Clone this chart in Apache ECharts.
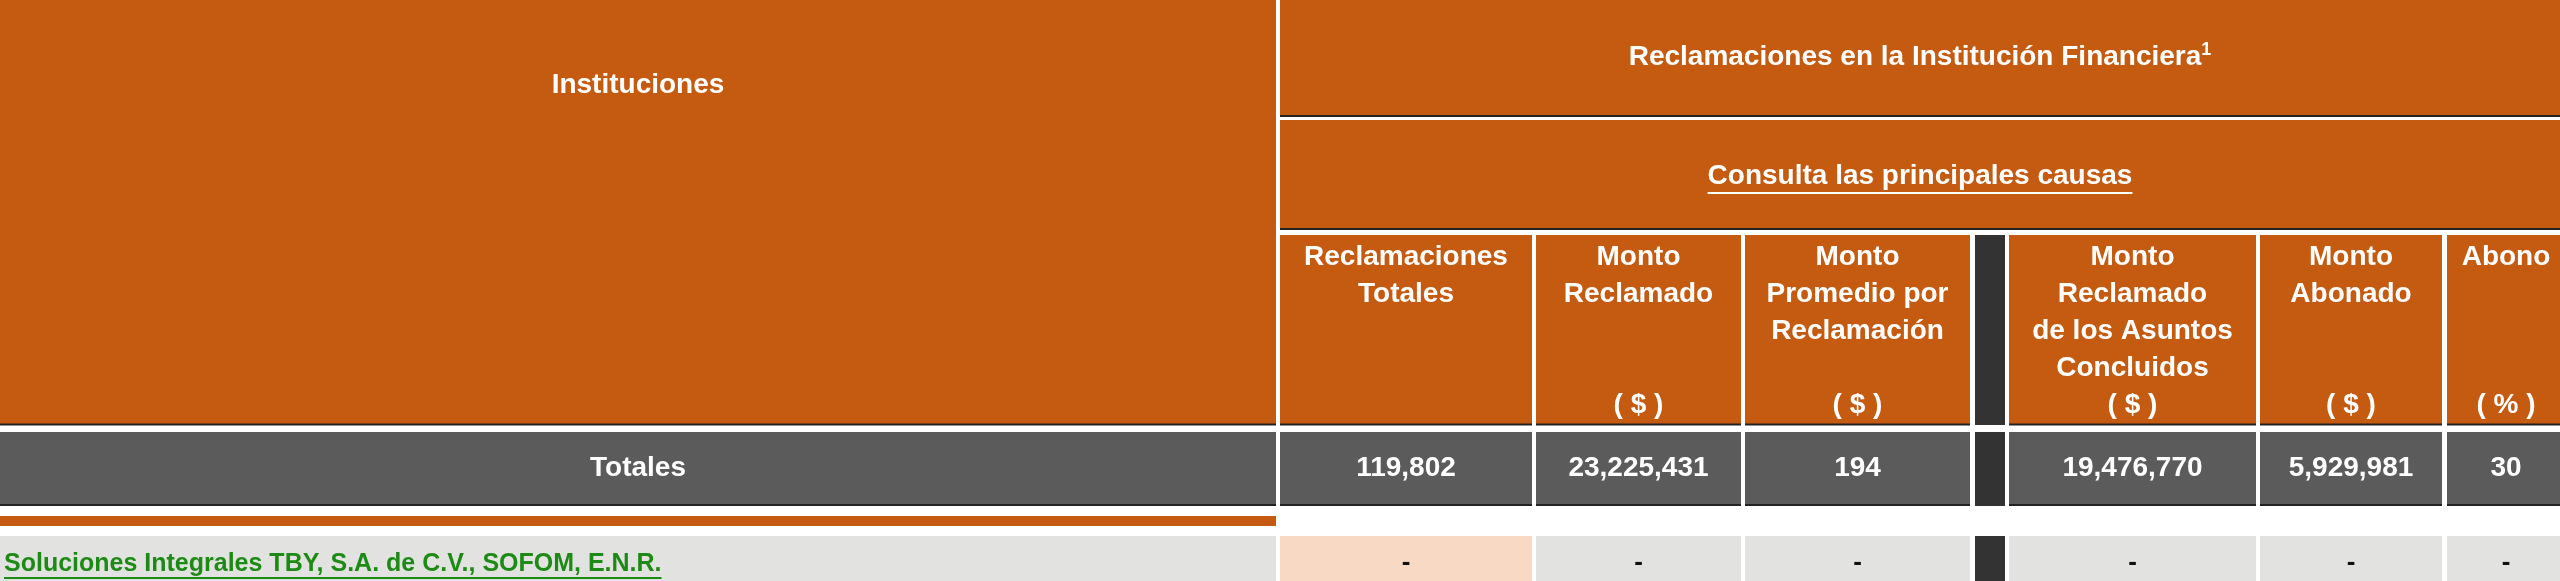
<!DOCTYPE html>
<html><head><meta charset="utf-8">
<script src="https://cdn.jsdelivr.net/npm/echarts@6/dist/echarts.min.js"></script>
<style>html,body{margin:0;padding:0;background:#fff}#c{width:2560px;height:581px}</style>
</head><body><div id="c"></div>
<script>
var leftHeader = "Instituciones";
var groupTitle = "Reclamaciones en la Institución Financiera";
var groupSup = "1";
var linkText = "Consulta las principales causas";
var columnHeaders = [
  ["Reclamaciones","Totales"],
  ["Monto","Reclamado"],
  ["Monto","Promedio por","Reclamación"],
  null,
  ["Monto","Reclamado","de los Asuntos","Concluidos"],
  ["Monto","Abonado"],
  ["Abono"]
];
var columnUnits = ["", "( $ )", "( $ )", null, "( $ )", "( $ )", "( % )"];
var totalsLabel = "Totales";
var totalsValues = ["119,802","23,225,431","194",null,"19,476,770","5,929,981","30"];
var institutions = ["Soluciones Integrales TBY, S.A. de C.V., SOFOM, E.N.R."];
var institutionValues = [["-","-","-",null,"-","-","-"]];

// layout
var colX = [[1280,1532],[1536,1741],[1745,1970],[1975,2005],[2009,2256],[2260,2442],[2447,2565]];
var ORANGE="#C55A11", GRAY="#5B5B5B", LIGHT="#E2E3E0", PEACH="#F8D9C4", DARK="#333333";
var FONT='"Liberation Sans", Arial, sans-serif';
var cv=document.createElement('canvas').getContext('2d');
function tw(t,s){cv.font='bold '+s+'px '+FONT;return cv.measureText(t).width;}
var els=[];
function rect(x,y,w,h,c){els.push({type:'rect',shape:{x:x,y:y,width:w,height:h},style:{fill:c},silent:true});}
function line(x1,y1,x2,y2,c,w){els.push({type:'line',shape:{x1:x1,y1:y1,x2:x2,y2:y2},style:{stroke:c,lineWidth:w},silent:true});}
function text(t,x,y,s,c,align){els.push({type:'text',x:x,y:y,style:{text:t,fill:c,font:'bold '+s+'px '+FONT,textAlign:align||'center',textVerticalAlign:'middle'},silent:true});}

// left header block
rect(0,0,1276,425,ORANGE); line(0,424.5,1276,424.5,'#222',2);
text(leftHeader,638,85,28,'#fff');
// group title
rect(1280,0,1290,116,ORANGE); line(1280,116,2560,116,'#222',2);
els.push({type:'text',x:1920,y:57,style:{rich:{a:{font:'bold 28px '+FONT,fill:'#fff'},s:{font:'bold 18px '+FONT,fill:'#fff',verticalAlign:'top',padding:[0,0,14,0]}},text:'{a|'+groupTitle+'}{s|'+groupSup+'}',textAlign:'center',textVerticalAlign:'middle'},silent:true});
rect(1280,120,1290,109,ORANGE); line(1280,229,2560,229,'#222',2);
text(linkText,1920,176,28,'#fff');
var lw=tw(linkText,28); line(1920-lw/2,193,1920+lw/2,193,'#fff',2);
// column headers
columnHeaders.forEach(function(h,i){
  var x0=colX[i][0],x1=colX[i][1],cx=(x0+x1)/2;
  if(!h){rect(x0,235,x1-x0,190,DARK);return;}
  rect(x0,235,x1-x0,190,ORANGE); line(x0,424.5,x1,424.5,'#222',2);
  h.forEach(function(t,k){text(t,cx,257+k*37,28,'#fff');});
  if(columnUnits[i]) text(columnUnits[i],cx,405,28,'#fff');
});
// totals row
rect(0,432,1276,73,GRAY); line(0,505,1276,505,'#222',2);
text(totalsLabel,638,468,28,'#fff');
totalsValues.forEach(function(v,i){
  var x0=colX[i][0],x1=colX[i][1];
  if(v===null){rect(x0,432,x1-x0,74,DARK);return;}
  rect(x0,432,x1-x0,73,GRAY); line(x0,505,x1,505,'#222',2);
  text(v,(x0+x1)/2,468,28,'#fff');
});
// separator strip
rect(0,516,1276,10,ORANGE);
// institution rows
institutions.forEach(function(name,r){
  var y=536;
  rect(0,y,1276,60,LIGHT);
  text(name,4,y+28,25,'#1E8A16','left');
  var nw=tw(name,25); line(4,y+42,4+nw,y+42,'#1E8A16',2);
  institutionValues[r].forEach(function(v,i){
    var x0=colX[i][0],x1=colX[i][1];
    if(v===null){rect(x0,y,x1-x0,60,DARK);return;}
    rect(x0,y,x1-x0,60,i===0?PEACH:LIGHT);
    text(v,(x0+x1)/2,y+27,26,'#111');
  });
});
var ch=echarts.init(document.getElementById('c'));
ch.setOption({animation:false,graphic:{elements:els}});
</script></body></html>
